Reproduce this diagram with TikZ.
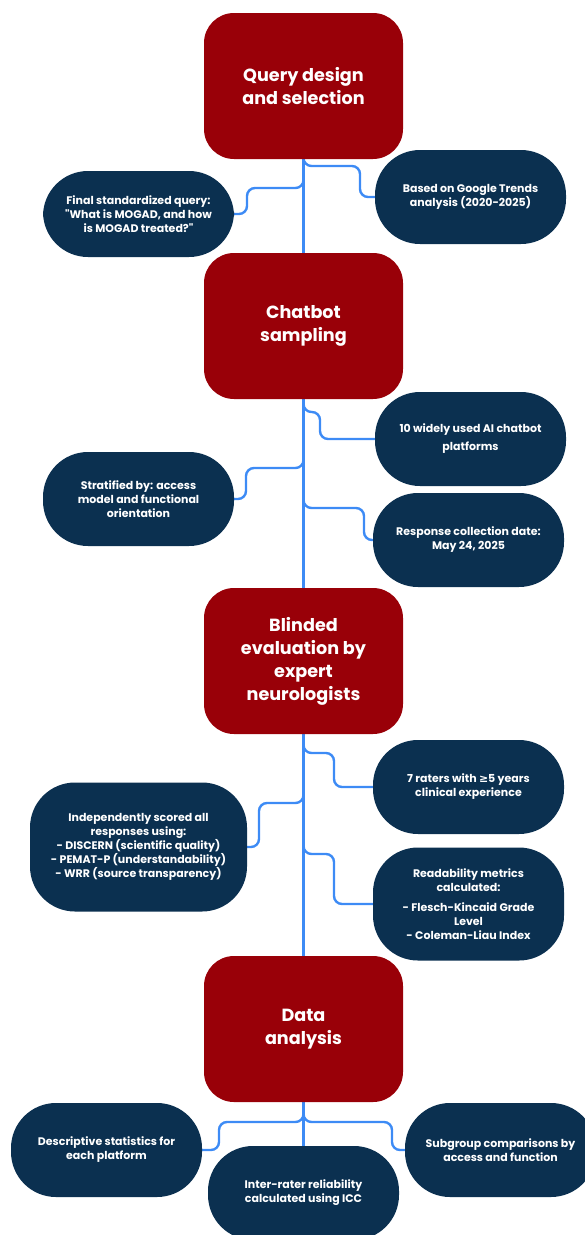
\documentclass[tikz,border=0pt]{standalone}
\usepackage{fontspec}
\setmainfont{Poppins}
\newfontfamily\symfont{DejaVu Sans}
\usetikzlibrary{backgrounds}
\definecolor{stagered}{HTML}{990008}
\definecolor{navy}{HTML}{0B3050}
\definecolor{linkblue}{HTML}{3D8BF5}

\begin{document}
\begin{tikzpicture}[x=1pt, y=-1pt,
  stage/.style={fill=stagered, text=white, rounded corners=30pt, minimum width=199pt, minimum height=146pt, align=center, font=\bfseries\fontsize{17.6}{23}\selectfont},
  detail/.style={fill=navy, text=white, rounded corners=45pt, minimum width=191pt, minimum height=94pt, align=center, font=\bfseries\fontsize{11}{14}\selectfont},
  trunk/.style={linkblue, line width=2.6pt},
  branch/.style={linkblue, line width=2.4pt, rounded corners=8pt}]
  \useasboundingbox (0,0) rectangle (585,1235);

  \node[stage] (query) at (303.5,86) {Query design\\and selection};
  \node[stage] (chatbot) at (303.5,326) {Chatbot\\sampling};
  \node[stage] (blind) at (303.5,661) {Blinded\\evaluation by\\expert\\neurologists};
  \node[stage] (data) at (303.5,1029) {Data\\analysis};

  \node[detail, minimum height=86pt] (final) at (138.5,214) {Final standardized query:\\\textquotedbl What is MOGAD, and how\\is MOGAD treated?\textquotedbl};
  \node[detail] (trends) at (470.5,197) {Based on Google Trends\\analysis (2020-2025)};
  \node[detail] (platforms) at (470.5,439) {10 widely used AI chatbot\\[4pt]platforms};
  \node[detail] (strat) at (138.5,499) {Stratified by: access\\model and functional\\orientation};
  \node[detail] (date) at (468.5,540) {Response collection date:\\May 24, 2025};
  \node[detail] (raters) at (468.5,787) {7 raters with {\symfont ≥}5 years\\clinical experience};
  \node[detail, minimum width=217pt, minimum height=129pt] (scored) at (138.5,847) {Independently scored all\\responses using:\\- DISCERN (scientific quality)\\- PEMAT-P (understandability)\\- WRR (source transparency)};
  \node[detail, minimum height=113pt] (readab) at (468.5,904) {Readability metrics\\calculated:\\[6pt]- Flesch-Kincaid Grade\\Level\\- Coleman-Liau Index};
  \node[detail] (descr) at (106.5,1150) {Descriptive statistics for\\each platform};
  \node[detail] (icc) at (303.5,1193) {Inter-rater reliability\\calculated using ICC};
  \node[detail] (subgr) at (500.5,1150) {Subgroup comparisons by\\access and function};

  \begin{scope}[on background layer]
    \draw[trunk] (query) -- (chatbot);
    \draw[trunk] (chatbot) -- (blind);
    \draw[trunk] (blind) -- (data);
    \draw[trunk] (data) -- (icc);
    \draw[branch] (query.south) |- (360,166) |- (trends);
    \draw[branch] (query.south) |- (247,188) |- (final);
    \draw[branch] (chatbot.south) |- (320,412) |- (platforms);
    \draw[branch] (chatbot.south) |- (246,468) |- (strat);
    \draw[branch] (chatbot.south) |- (364,508) |- (date);
    \draw[branch] (blind.south) |- (334,753) |- (raters);
    \draw[branch] (blind.south) |- (259,803) |- (scored);
    \draw[branch] (blind.south) |- (334,854) |- (readab);
    \draw[branch] (data.south) |- (219,1122) |- (descr);
    \draw[branch] (data.south) |- (392,1122) |- (subgr);
  \end{scope}
\end{tikzpicture}
\end{document}
